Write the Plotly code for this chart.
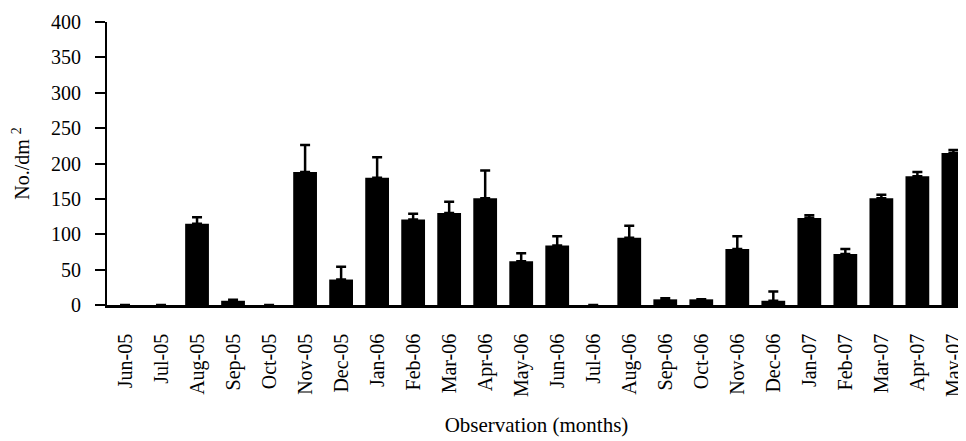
import plotly.graph_objects as go

months = ["Jun-05", "Jul-05", "Aug-05", "Sep-05", "Oct-05", "Nov-05", "Dec-05", "Jan-06",
          "Feb-06", "Mar-06", "Apr-06", "May-06", "Jun-06", "Jul-06", "Aug-06", "Sep-06",
          "Oct-06", "Nov-06", "Dec-06", "Jan-07", "Feb-07", "Mar-07", "Apr-07", "May-07"]
density = [0, 0, 115, 6, 0, 188, 36, 180, 121, 130, 151, 62, 84, 0, 95, 8,
           8, 79, 6, 123, 72, 151, 182, 215]
error_up = [0, 0, 9, 1.5, 0, 38, 18, 29, 8, 16, 39, 11, 13, 0, 17, 1.5,
            0, 18, 13, 4, 7, 5, 6, 4]

font_family = "Liberation Serif, Times New Roman, serif"

fig = go.Figure()
fig.add_trace(go.Bar(
    x=months, y=density,
    marker=dict(color="black", line=dict(width=0)),
    error_y=dict(type="data", array=error_up, symmetric=False, arrayminus=[0]*len(months),
                 color="black", thickness=2.5, width=5),
    width=0.66,
))

fig.update_layout(
    width=958, height=433,
    margin=dict(l=99, r=0, t=14, b=136),
    plot_bgcolor="white", paper_bgcolor="white",
    font=dict(family=font_family, color="black", size=20),
    showlegend=False,
    xaxis=dict(
        range=[-0.5, 23.35],
        tickangle=-90,
        tickfont=dict(size=20),
        showline=True, linecolor="black", linewidth=2.5,
        ticks="", showgrid=False,
        ticklabelstandoff=18,
        title=dict(text="Observation (months)", font=dict(size=21), standoff=22),
    ),
    yaxis=dict(
        range=[0, 400], dtick=50,
        tickfont=dict(size=20),
        showline=True, linecolor="black", linewidth=2,
        ticks="outside", ticklen=10, tickwidth=2, tickcolor="black",
        ticklabelstandoff=10,
        showgrid=False, zeroline=False,
        title=dict(text="No./dm <sup>2</sup>", font=dict(size=20), standoff=16),
    ),
)

fig.write_html("out.html")
